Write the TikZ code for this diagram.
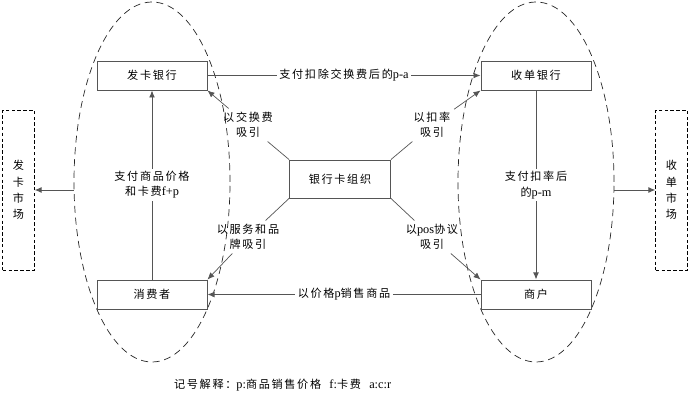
\documentclass[tikz,border=0pt]{standalone}
\usepackage{fontspec}
\setmainfont[LetterSpace=15]{Noto Sans CJK SC}
\newfontfamily\latinfont{Liberation Serif}
\newcommand\latn[1]{{\latinfont\fontsize{10.5}{12}\selectfont #1}}
\usepackage{tikz}
\usetikzlibrary{shapes.geometric, arrows.meta, positioning}
\definecolor{lineGray}{RGB}{85,85,85}

\begin{document}
\begin{tikzpicture}[
  box/.style={rectangle, draw=lineGray, thick, fill=white, minimum width=3.3cm,
              minimum height=0.87cm, font=\fontsize{9.5}{12}\selectfont},
  orgbox/.style={box, minimum width=3.03cm, minimum height=1.14cm},
  market/.style={rectangle, draw=black, densely dashed, minimum width=0.95cm,
                 minimum height=4.8cm, align=center, font=\fontsize{9.5}{14}\selectfont},
  zone/.style={ellipse, draw=black!85, semithick, dash pattern=on 6pt off 4pt,
               minimum width=4.68cm, minimum height=10.8cm, inner sep=0pt},
  lbl/.style={align=center, fill=white, text=black, inner sep=2pt, font=\fontsize{9.5}{13}\selectfont},
  tag/.style={align=center, inner sep=3pt, font=\fontsize{9.5}{13}\selectfont},
  arr/.style={-{Latex[length=6pt,width=5pt]}, lineGray, thick},
  ln/.style={lineGray, semithick},
]
\useasboundingbox (0,0) rectangle (20.79,12.48);

%% Zones
\node[zone] (L) at (4.56,7.02) {};
\node[zone] (R) at (16.08,7.02) {};

%% Nodes
\node[box] (fk)  at (4.56,10.215)  {发卡银行};
\node[box] (sd)  at (16.08,10.215) {收单银行};
\node[box] (xf)  at (4.56,3.645)   {消费者};
\node[box] (sh)  at (16.08,3.645)  {商户};
\node[orgbox] (org) at (10.2,7.11) {银行卡组织};

\node[market] (lm) at (0.555,6.78)  {发\\卡\\市\\场};
\node[market] (rm) at (20.145,6.78) {收\\单\\市\\场};

\node[tag] (t1) at (7.44,8.73)  {以交换费\\吸引};
\node[tag] (t2) at (12.96,8.73) {以扣率\\吸引};
\node[tag] (t3) at (7.44,5.37)  {以服务和品\\牌吸引};
\node[tag] (t4) at (12.96,5.37) {以\latn{pos}协议\\吸引};

%% Edges
\draw[arr] (fk) -- node[lbl]{支付扣除交换费后的\latn{p-a}} (sd);
\draw[arr] (sh) -- node[lbl]{以价格\latn{p}销售商品} (xf);
\draw[arr] (xf) -- node[lbl]{支付商品价格\\和卡费\latn{f+p}} (fk);
\draw[arr] (sd) -- node[lbl]{支付扣率后\\的\latn{p-m}} (sh);

\draw[ln] (org.north west) -- (t1);
\draw[arr, semithick] (t1) -- (fk.south east);
\draw[ln] (org.north east) -- (t2);
\draw[arr, semithick] (t2) -- (sd.south west);
\draw[ln] (org.south west) -- (t3);
\draw[arr, semithick] (t3) -- (xf.north east);
\draw[ln] (org.south east) -- (t4);
\draw[arr, semithick] (t4) -- (sh.north west);

\draw[arr] (lm.east -| L.west) -- (lm.east);
\draw[arr] (rm.west -| R.east) -- (rm.west);

%% Note
\node[anchor=west, font=\fontsize{9.5}{12}\selectfont] (note) at (5.1,0.93)
  {记号解释：\latn{p:}商品销售价格\ \ \latn{f:}卡费\ \ \latn{a:c:r}};
\end{tikzpicture}
\end{document}
